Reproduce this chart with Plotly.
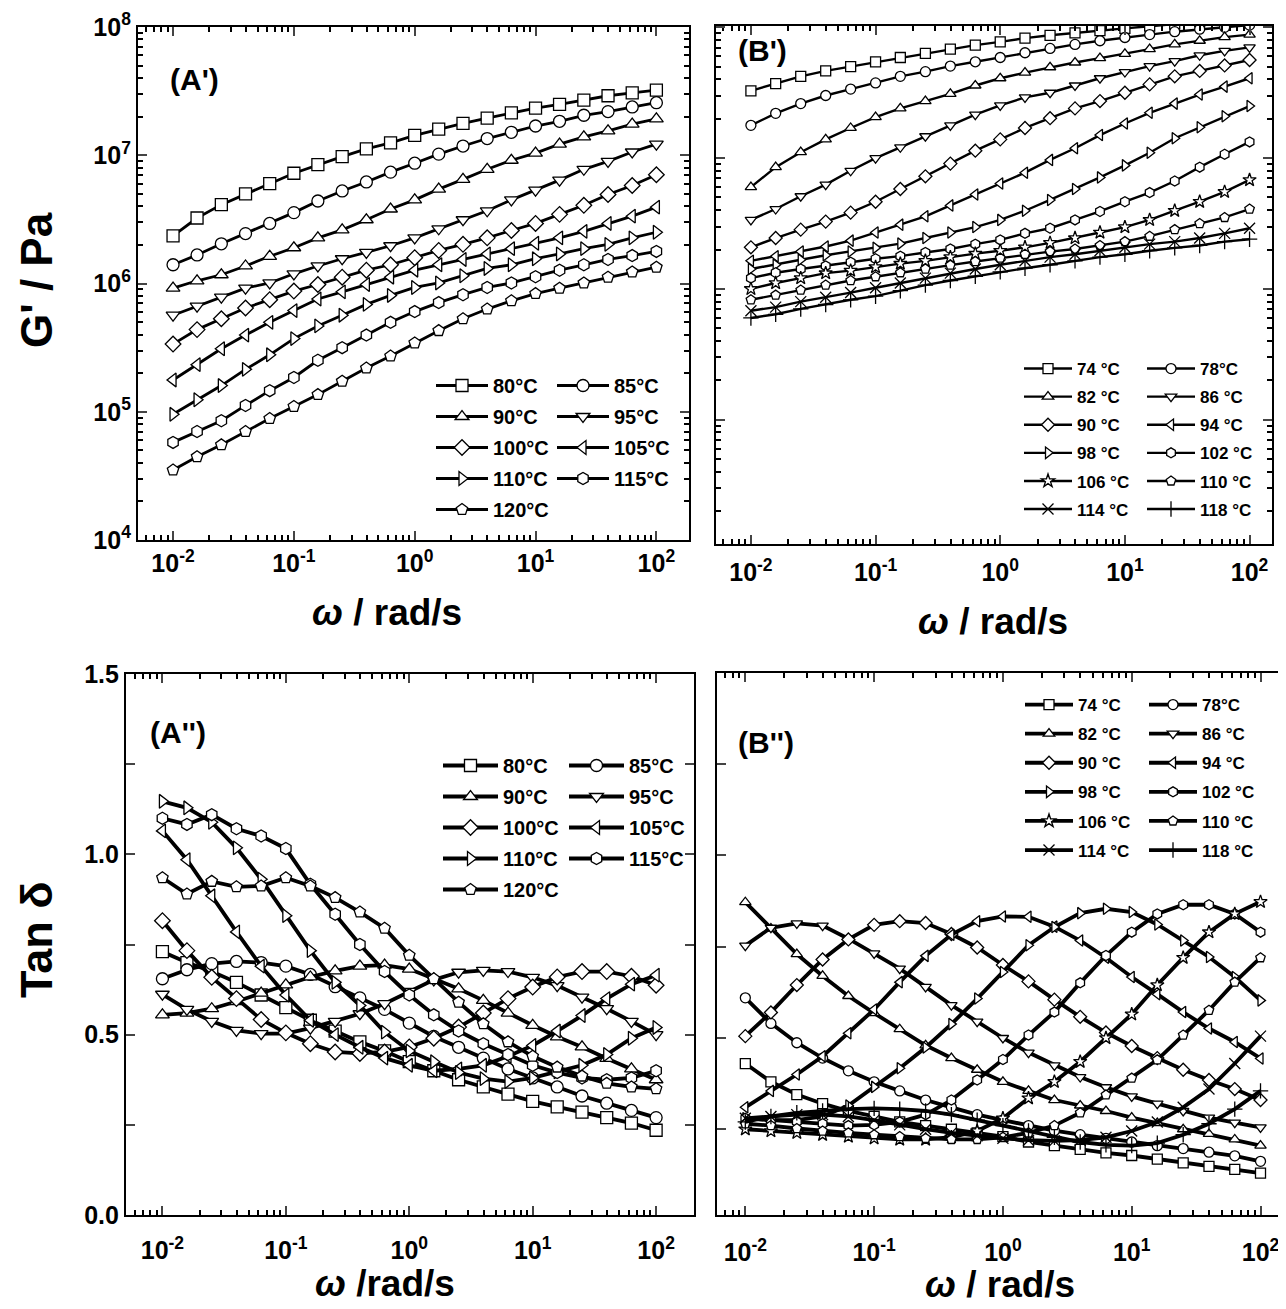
import plotly.graph_objects as go

# ---------------- data ----------------
omega = [0.01, 0.0158, 0.0251, 0.0398, 0.0631, 0.1, 0.158, 0.251, 0.398, 0.631,
         1.0, 1.58, 2.51, 3.98, 6.31, 10.0, 15.8, 25.1, 39.8, 63.1, 100.0]

# Panel A' : G' (Pa)
labels_A = ["80°C", "85°C", "90°C", "95°C", "100°C", "105°C", "110°C", "115°C", "120°C"]
gA_80 = [2.35e6, 3.24e6, 4.12e6, 5.0e6, 6.0e6, 7.24e6, 8.45e6, 9.75e6, 1.12e7, 1.25e7, 1.43e7,
         1.60e7, 1.77e7, 1.95e7, 2.14e7, 2.33e7, 2.49e7, 2.69e7, 2.91e7, 3.06e7, 3.22e7]
gA_85 = [1.40e6, 1.67e6, 2.04e6, 2.45e6, 2.94e6, 3.57e6, 4.40e6, 5.27e6, 6.19e6, 7.38e6, 8.67e6,
         1.02e7, 1.18e7, 1.35e7, 1.51e7, 1.69e7, 1.84e7, 2.05e7, 2.19e7, 2.38e7, 2.57e7]
gA_90 = [9.2e5, 1.05e6, 1.17e6, 1.37e6, 1.63e6, 1.90e6, 2.27e6, 2.62e6, 3.14e6, 3.81e6, 4.49e6,
         5.44e6, 6.48e6, 7.77e6, 9.14e6, 1.04e7, 1.22e7, 1.39e7, 1.55e7, 1.75e7, 1.92e7]
gA_95 = [5.66e5, 6.65e5, 7.82e5, 9.19e5, 1.01e6, 1.19e6, 1.37e6, 1.56e6, 1.75e6, 1.97e6, 2.27e6,
         2.67e6, 3.14e6, 3.69e6, 4.49e6, 5.34e6, 6.40e6, 7.77e6, 8.96e6, 1.06e7, 1.22e7]
gA_100 = [3.37e5, 4.37e5, 5.31e5, 6.44e5, 7.48e5, 8.73e5, 9.82e5, 1.12e6, 1.27e6, 1.40e6, 1.59e6,
          1.81e6, 2.02e6, 2.27e6, 2.59e6, 2.94e6, 3.46e6, 4.07e6, 4.94e6, 5.81e6, 7.05e6]
gA_105 = [1.77e5, 2.33e5, 3.10e5, 3.96e5, 4.98e5, 6.15e5, 7.57e5, 8.61e5, 9.82e5, 1.12e6, 1.27e6,
          1.40e6, 1.54e6, 1.70e6, 1.87e6, 2.06e6, 2.27e6, 2.55e6, 2.94e6, 3.35e6, 3.94e6]
gA_110 = [9.55e4, 1.24e5, 1.60e5, 2.14e5, 2.78e5, 3.72e5, 4.67e5, 5.66e5, 6.87e5, 8.07e5, 9.31e5,
          1.01e6, 1.15e6, 1.31e6, 1.40e6, 1.56e6, 1.70e6, 1.87e6, 2.02e6, 2.27e6, 2.51e6]
gA_115 = [5.77e4, 7.01e4, 8.51e4, 1.12e5, 1.46e5, 1.85e5, 2.52e5, 3.16e5, 3.96e5, 4.98e5, 6.04e5,
          7.10e5, 8.18e5, 9.31e5, 1.01e6, 1.13e6, 1.27e6, 1.40e6, 1.54e6, 1.65e6, 1.78e6]
gA_120 = [3.51e4, 4.46e4, 5.52e4, 7.01e4, 8.85e4, 1.10e5, 1.36e5, 1.73e5, 2.19e5, 2.72e5, 3.44e5,
          4.29e5, 5.31e5, 6.32e5, 7.33e5, 8.34e5, 9.19e5, 1.01e6, 1.12e6, 1.23e6, 1.34e6]

# Panel B' : G' (Pa)
labels_B = ["74 °C", "78°C", "82 °C", "86 °C", "90 °C", "94 °C", "98 °C", "102 °C",
            "106 °C", "110 °C", "114 °C", "118 °C"]
gB_74 = [3.27e7, 3.71e7, 4.22e7, 4.64e7, 5.01e7, 5.45e7, 5.88e7, 6.31e7, 6.81e7, 7.31e7, 7.74e7,
         8.26e7, 8.69e7, 9.08e7, 9.44e7, 9.81e7, 1.02e8, 1.06e8, 1.10e8, 1.14e8, 1.18e8]
gB_78 = [1.78e7, 2.20e7, 2.61e7, 3.01e7, 3.37e7, 3.76e7, 4.22e7, 4.58e7, 5.05e7, 5.45e7, 5.88e7,
         6.39e7, 6.90e7, 7.40e7, 7.89e7, 8.36e7, 8.80e7, 9.26e7, 9.68e7, 1.0e8, 1.04e8]
gB_82 = [6.0e6, 8.53e6, 1.11e7, 1.39e7, 1.70e7, 2.06e7, 2.40e7, 2.73e7, 3.10e7, 3.59e7, 4.08e7,
         4.50e7, 4.95e7, 5.38e7, 5.81e7, 6.27e7, 6.81e7, 7.40e7, 7.89e7, 8.41e7, 8.80e7]
gB_86 = [3.37e6, 4.08e6, 5.11e6, 6.27e6, 8.0e6, 1.0e7, 1.21e7, 1.47e7, 1.78e7, 2.15e7, 2.53e7,
         2.91e7, 3.16e7, 3.59e7, 4.08e7, 4.55e7, 5.05e7, 5.52e7, 6.11e7, 6.60e7, 7.03e7]
gB_90 = [2.08e6, 2.45e6, 2.84e6, 3.27e6, 3.83e6, 4.64e6, 5.81e6, 7.26e6, 9.08e6, 1.14e7, 1.39e7,
         1.70e7, 2.02e7, 2.40e7, 2.73e7, 3.16e7, 3.66e7, 4.22e7, 4.64e7, 5.11e7, 5.62e7]
gB_94 = [1.64e6, 1.78e6, 1.93e6, 2.11e6, 2.34e6, 2.70e6, 3.10e6, 3.59e6, 4.35e6, 5.27e6, 6.40e6,
         7.74e6, 9.69e6, 1.19e7, 1.50e7, 1.84e7, 2.22e7, 2.61e7, 3.06e7, 3.52e7, 4.08e7]
gB_98 = [1.42e6, 1.53e6, 1.67e6, 1.81e6, 1.93e6, 2.06e6, 2.22e6, 2.45e6, 2.70e6, 2.97e6, 3.37e6,
         3.96e6, 4.79e6, 5.81e6, 7.12e6, 8.80e6, 1.10e7, 1.42e7, 1.72e7, 2.09e7, 2.50e7]
gB_102 = [1.21e6, 1.33e6, 1.42e6, 1.50e6, 1.60e6, 1.70e6, 1.78e6, 1.90e6, 2.02e6, 2.20e6, 2.37e6,
          2.66e6, 2.91e6, 3.37e6, 3.91e6, 4.64e6, 5.45e6, 6.68e6, 8.53e6, 1.07e7, 1.33e7]
gB_106 = [1.0e6, 1.11e6, 1.21e6, 1.32e6, 1.38e6, 1.47e6, 1.56e6, 1.64e6, 1.75e6, 1.86e6, 1.96e6,
          2.08e6, 2.25e6, 2.45e6, 2.70e6, 2.97e6, 3.37e6, 3.96e6, 4.64e6, 5.52e6, 6.81e6]
gB_110 = [8.26e5, 8.97e5, 9.81e5, 1.07e6, 1.16e6, 1.24e6, 1.33e6, 1.42e6, 1.52e6, 1.62e6, 1.72e6,
          1.84e6, 1.93e6, 2.02e6, 2.15e6, 2.30e6, 2.53e6, 2.84e6, 3.16e6, 3.52e6, 4.08e6]
gB_114 = [6.81e5, 7.26e5, 8.0e5, 8.63e5, 9.38e5, 1.02e6, 1.11e6, 1.21e6, 1.32e6, 1.42e6, 1.53e6,
          1.64e6, 1.75e6, 1.84e6, 1.96e6, 2.08e6, 2.20e6, 2.30e6, 2.45e6, 2.66e6, 2.91e6]
gB_118 = [6.0e5, 6.40e5, 7.03e5, 7.60e5, 8.26e5, 8.80e5, 9.69e5, 1.07e6, 1.16e6, 1.25e6, 1.35e6,
          1.44e6, 1.53e6, 1.64e6, 1.75e6, 1.84e6, 1.96e6, 2.06e6, 2.15e6, 2.30e6, 2.40e6]

# Panel A'' : tan delta
tA_80 = [0.73, 0.70, 0.675, 0.645, 0.61, 0.575, 0.54, 0.51, 0.48, 0.455, 0.425,
         0.40, 0.375, 0.355, 0.335, 0.315, 0.30, 0.285, 0.27, 0.255, 0.235]
tA_85 = [0.655, 0.68, 0.697, 0.703, 0.70, 0.69, 0.667, 0.633, 0.602, 0.57, 0.532,
         0.495, 0.465, 0.435, 0.405, 0.38, 0.355, 0.33, 0.31, 0.29, 0.27]
tA_90 = [0.555, 0.56, 0.572, 0.592, 0.615, 0.638, 0.66, 0.677, 0.69, 0.693, 0.682,
         0.655, 0.627, 0.595, 0.56, 0.526, 0.494, 0.466, 0.434, 0.405, 0.375]
tA_95 = [0.612, 0.57, 0.537, 0.512, 0.503, 0.503, 0.518, 0.537, 0.558, 0.586, 0.62,
         0.652, 0.673, 0.678, 0.675, 0.659, 0.636, 0.604, 0.572, 0.537, 0.50]
tA_100 = [0.816, 0.733, 0.659, 0.60, 0.542, 0.505, 0.475, 0.452, 0.448, 0.452, 0.466,
          0.49, 0.521, 0.56, 0.60, 0.632, 0.66, 0.675, 0.675, 0.662, 0.637]
tA_105 = [1.065, 0.985, 0.885, 0.785, 0.69, 0.61, 0.54, 0.50, 0.465, 0.435, 0.415,
          0.40, 0.405, 0.415, 0.44, 0.47, 0.51, 0.553, 0.60, 0.64, 0.665]
tA_110 = [1.147, 1.129, 1.089, 1.018, 0.931, 0.83, 0.733, 0.645, 0.581, 0.507, 0.455,
          0.425, 0.395, 0.378, 0.37, 0.38, 0.397, 0.415, 0.445, 0.49, 0.52]
tA_115 = [1.10, 1.083, 1.11, 1.071, 1.051, 1.016, 0.917, 0.834, 0.75, 0.675, 0.61,
          0.555, 0.51, 0.475, 0.445, 0.415, 0.395, 0.38, 0.375, 0.38, 0.40]
tA_120 = [0.935, 0.89, 0.925, 0.91, 0.912, 0.935, 0.912, 0.88, 0.84, 0.795, 0.72,
          0.655, 0.59, 0.53, 0.48, 0.44, 0.41, 0.385, 0.365, 0.355, 0.35]

# Panel B'' : tan delta
tB_74 = [0.43, 0.38, 0.345, 0.32, 0.30, 0.285, 0.27, 0.26, 0.25, 0.24, 0.23,
         0.215, 0.205, 0.195, 0.185, 0.178, 0.168, 0.158, 0.148, 0.14, 0.13]
tB_78 = [0.61, 0.54, 0.487, 0.445, 0.41, 0.38, 0.355, 0.33, 0.31, 0.29, 0.275,
         0.26, 0.246, 0.235, 0.225, 0.215, 0.205, 0.197, 0.187, 0.177, 0.162]
tB_82 = [0.872, 0.80, 0.73, 0.67, 0.615, 0.568, 0.524, 0.48, 0.445, 0.413, 0.38,
         0.355, 0.33, 0.315, 0.30, 0.282, 0.267, 0.25, 0.237, 0.222, 0.205]
tB_86 = [0.753, 0.802, 0.814, 0.808, 0.772, 0.732, 0.69, 0.64, 0.59, 0.545, 0.50,
         0.46, 0.425, 0.393, 0.365, 0.34, 0.32, 0.30, 0.282, 0.268, 0.255]
tB_90 = [0.505, 0.57, 0.645, 0.715, 0.77, 0.81, 0.82, 0.815, 0.785, 0.748, 0.70,
         0.655, 0.605, 0.558, 0.515, 0.478, 0.445, 0.413, 0.385, 0.36, 0.33]
tB_94 = [0.31, 0.355, 0.40, 0.45, 0.513, 0.578, 0.653, 0.725, 0.783, 0.82, 0.833,
         0.832, 0.805, 0.767, 0.72, 0.667, 0.62, 0.571, 0.526, 0.489, 0.444]
tB_98 = [0.28, 0.275, 0.275, 0.285, 0.315, 0.366, 0.417, 0.474, 0.538, 0.608, 0.681,
         0.754, 0.804, 0.842, 0.854, 0.845, 0.811, 0.767, 0.722, 0.667, 0.603]
tB_102 = [0.28, 0.275, 0.27, 0.265, 0.26, 0.262, 0.27, 0.29, 0.33, 0.385, 0.441,
          0.508, 0.571, 0.651, 0.726, 0.79, 0.84, 0.865, 0.865, 0.84, 0.79]
tB_106 = [0.25, 0.245, 0.24, 0.235, 0.23, 0.225, 0.222, 0.222, 0.228, 0.245, 0.28,
          0.335, 0.38, 0.435, 0.50, 0.565, 0.645, 0.72, 0.79, 0.84, 0.873]
tB_110 = [0.265, 0.26, 0.252, 0.245, 0.24, 0.235, 0.23, 0.225, 0.222, 0.222, 0.228,
          0.24, 0.26, 0.295, 0.344, 0.39, 0.44, 0.508, 0.576, 0.653, 0.72]
tB_114 = [0.28, 0.285, 0.29, 0.29, 0.285, 0.275, 0.262, 0.25, 0.24, 0.232, 0.225,
          0.22, 0.218, 0.22, 0.228, 0.245, 0.27, 0.31, 0.36, 0.43, 0.505]
tB_118 = [0.27, 0.285, 0.295, 0.30, 0.305, 0.307, 0.305, 0.30, 0.29, 0.275, 0.26,
          0.245, 0.228, 0.215, 0.207, 0.205, 0.212, 0.235, 0.265, 0.305, 0.355]

x_tickvals = [0.01, 0.1, 1, 10, 100]
x_ticktext = ["10<sup>-2</sup>", "10<sup>-1</sup>", "10<sup>0</sup>", "10<sup>1</sup>", "10<sup>2</sup>"]
gy_tickvals = [1e4, 1e5, 1e6, 1e7, 1e8]
gy_ticktext = ["10<sup>4</sup>", "10<sup>5</sup>", "10<sup>6</sup>", "10<sup>7</sup>", "10<sup>8</sup>"]
ty_tickvals = [0.0, 0.25, 0.5, 0.75, 1.0, 1.25, 1.5]
ty_ticktext = ["0.0", "", "0.5", "", "1.0", "", "1.5"]

# ---------------- figure ----------------
W, H = 1286, 1309
OFF = 8  # page body margin
FONT = "Liberation Sans, Arial, Helvetica, sans-serif"

A_series = [gA_80, gA_85, gA_90, gA_95, gA_100, gA_105, gA_110, gA_115, gA_120]
A_symbols = ["square", "circle", "triangle-up", "triangle-down", "diamond",
             "triangle-left", "triangle-right", "hexagon", "pentagon"]
B_series = [gB_74, gB_78, gB_82, gB_86, gB_90, gB_94, gB_98, gB_102, gB_106, gB_110, gB_114, gB_118]
B_symbols = ["square", "circle", "triangle-up", "triangle-down", "diamond", "triangle-left",
             "triangle-right", "hexagon", "star", "pentagon", "x-thin", "cross-thin"]
A2_series = [tA_80, tA_85, tA_90, tA_95, tA_100, tA_105, tA_110, tA_115, tA_120]
B2_series = [tB_74, tB_78, tB_82, tB_86, tB_90, tB_94, tB_98, tB_102, tB_106, tB_110, tB_114, tB_118]

fig = go.Figure()


def add_panel(series, labels, symbols, xa, ya, legs, msize, lw, prefix):
    for k, (yv, lab, sym) in enumerate(zip(series, labels, symbols)):
        thin = sym.endswith("thin")
        fig.add_trace(go.Scatter(
            x=omega, y=yv, name=lab, mode="lines+markers",
            xaxis=xa, yaxis=ya,
            line=dict(color="black", width=lw),
            marker=dict(symbol=sym, size=msize if not thin else msize + 1,
                        color="black" if thin else "white",
                        line=dict(color="black", width=1.3)),
            legend=legs[k % 2], legendgroup=f"{prefix}{k}",
        ))


add_panel(A_series, labels_A, A_symbols, "x", "y", ["legend", "legend2"], 12, 2.8, "a")
add_panel(B_series, labels_B, B_symbols, "x2", "y2", ["legend3", "legend4"], 10, 2.4, "b")
add_panel(A2_series, labels_A, A_symbols, "x3", "y3", ["legend5", "legend6"], 12, 3.8, "c")
add_panel(B2_series, labels_B, B_symbols, "x4", "y4", ["legend7", "legend8"], 10, 3.8, "d")


def px_x(v):
    return min(1.0, (v - OFF) / W)


def px_y(v):
    return max(0.0, 1 - (v - OFF) / H)


minor_log = [m * 10 ** e for e in range(-3, 9) for m in range(2, 10)]

tickfont = dict(family=FONT, size=25, color="black", weight="bold")


def xaxis(dom, rng, anchor, standoff=0):
    return dict(domain=dom, anchor=anchor, type="log", range=rng, showline=True, linecolor="black",
                linewidth=2.2, mirror="allticks", ticks="inside", ticklen=9, tickwidth=2,
                tickmode="array", tickvals=x_tickvals, ticktext=x_ticktext, automargin=False,
                ticklabelstandoff=standoff,
                tickfont=tickfont, showgrid=False, zeroline=False,
                minor=dict(ticks="inside", ticklen=5, tickwidth=1.5, tickcolor="black",
                           tickmode="array", tickvals=minor_log, showgrid=False))


def ylog(dom, rng, anchor, showlabels=True):
    return dict(domain=dom, anchor=anchor, type="log", range=rng, showline=True, linecolor="black",
                linewidth=2.2, mirror="allticks", ticks="inside", ticklen=9, tickwidth=2,
                tickmode="array", tickvals=gy_tickvals, ticktext=gy_ticktext, automargin=False,
                showticklabels=showlabels, tickfont=tickfont, showgrid=False, zeroline=False,
                minor=dict(ticks="inside", ticklen=5, tickwidth=1.5, tickcolor="black",
                           tickmode="array", tickvals=minor_log, showgrid=False))


def ylin(dom, rng, anchor, showlabels=True):
    return dict(domain=dom, anchor=anchor, range=rng, showline=True, linecolor="black",
                linewidth=2.2, mirror="allticks", ticks="inside", ticklen=9, tickwidth=2,
                tickmode="array", tickvals=ty_tickvals, ticktext=ty_ticktext, automargin=False,
                showticklabels=showlabels, tickfont=tickfont, showgrid=False, zeroline=False)


def leg(xpx, ypx, gap, size, iw):
    return dict(x=px_x(xpx), y=px_y(ypx), xanchor="left", yanchor="top",
                bgcolor="rgba(0,0,0,0)", borderwidth=0, tracegroupgap=gap,
                itemwidth=iw, font=dict(family=FONT, size=size, color="black", weight="bold"),
                itemclick=False)


fig.update_layout(
    width=W, height=H, margin=dict(l=0, r=0, t=0, b=0, autoexpand=False),
    paper_bgcolor="white", plot_bgcolor="white",
    showlegend=True,
    xaxis=xaxis([px_x(138), px_x(689)], [-2.29, 2.27], "y"),
    yaxis=ylog([px_y(540), px_y(27)], [4, 8], "x"),
    xaxis2=xaxis([px_x(716), px_x(1272)], [-2.28, 2.18], "y2", 5),
    yaxis2=ylog([px_y(544), px_y(26)], [4.05, 8.01], "x2", showlabels=False),
    xaxis3=xaxis([px_x(126), px_x(694)], [-2.295, 2.307], "y3", 12),
    yaxis3=ylin([px_y(1215), px_y(674)], [0.0, 1.5], "x3"),
    xaxis4=xaxis([px_x(717), 1.0], [-2.22, 2.26], "y4", 14),
    yaxis4=ylin([px_y(1215), px_y(673)], [0.015, 1.5], "x4", showlabels=False),
    legend=leg(431, 366, 2, 20, 52),
    legend2=leg(552, 366, 2, 20, 52),
    legend3=leg(1019, 351, 3, 17, 48),
    legend4=leg(1142, 351, 3, 17, 48),
    legend5=leg(438, 746, 2, 20, 55),
    legend6=leg(564, 746, 2, 20, 55),
    legend7=leg(1020, 687, 4, 17, 48),
    legend8=leg(1144, 687, 4, 17, 48),
)

annfont = dict(family=FONT, color="black", weight="bold")
anns = [
    dict(text="(A')", x=194, y=80, size=30),
    dict(text="(B')", x=762, y=50, size=30),
    dict(text="(A'')", x=178, y=732, size=30),
    dict(text="(B'')", x=766, y=742, size=30),
    dict(text="<i>ω</i> / rad/s", x=387, y=612, size=37),
    dict(text="<i>ω</i> / rad/s", x=993, y=621, size=37),
    dict(text="<i>ω</i> /rad/s", x=385, y=1283, size=37),
    dict(text="<i>ω</i> / rad/s", x=1000, y=1284, size=37),
]
for a in anns:
    fig.add_annotation(text=a["text"], x=px_x(a["x"]), y=px_y(a["y"]), xref="paper", yref="paper",
                       xanchor="center", yanchor="middle", showarrow=False,
                       font=dict(size=a["size"], **annfont))
fig.add_annotation(text="G' / Pa", x=px_x(36), y=px_y(280), xref="paper", yref="paper",
                   xanchor="center", yanchor="middle", showarrow=False, textangle=-90,
                   font=dict(size=44, **annfont))
fig.add_annotation(text="Tan δ", x=px_x(36), y=px_y(940), xref="paper", yref="paper",
                   xanchor="center", yanchor="middle", showarrow=False, textangle=-90,
                   font=dict(size=45, **annfont))

fig.write_html("out.html")
